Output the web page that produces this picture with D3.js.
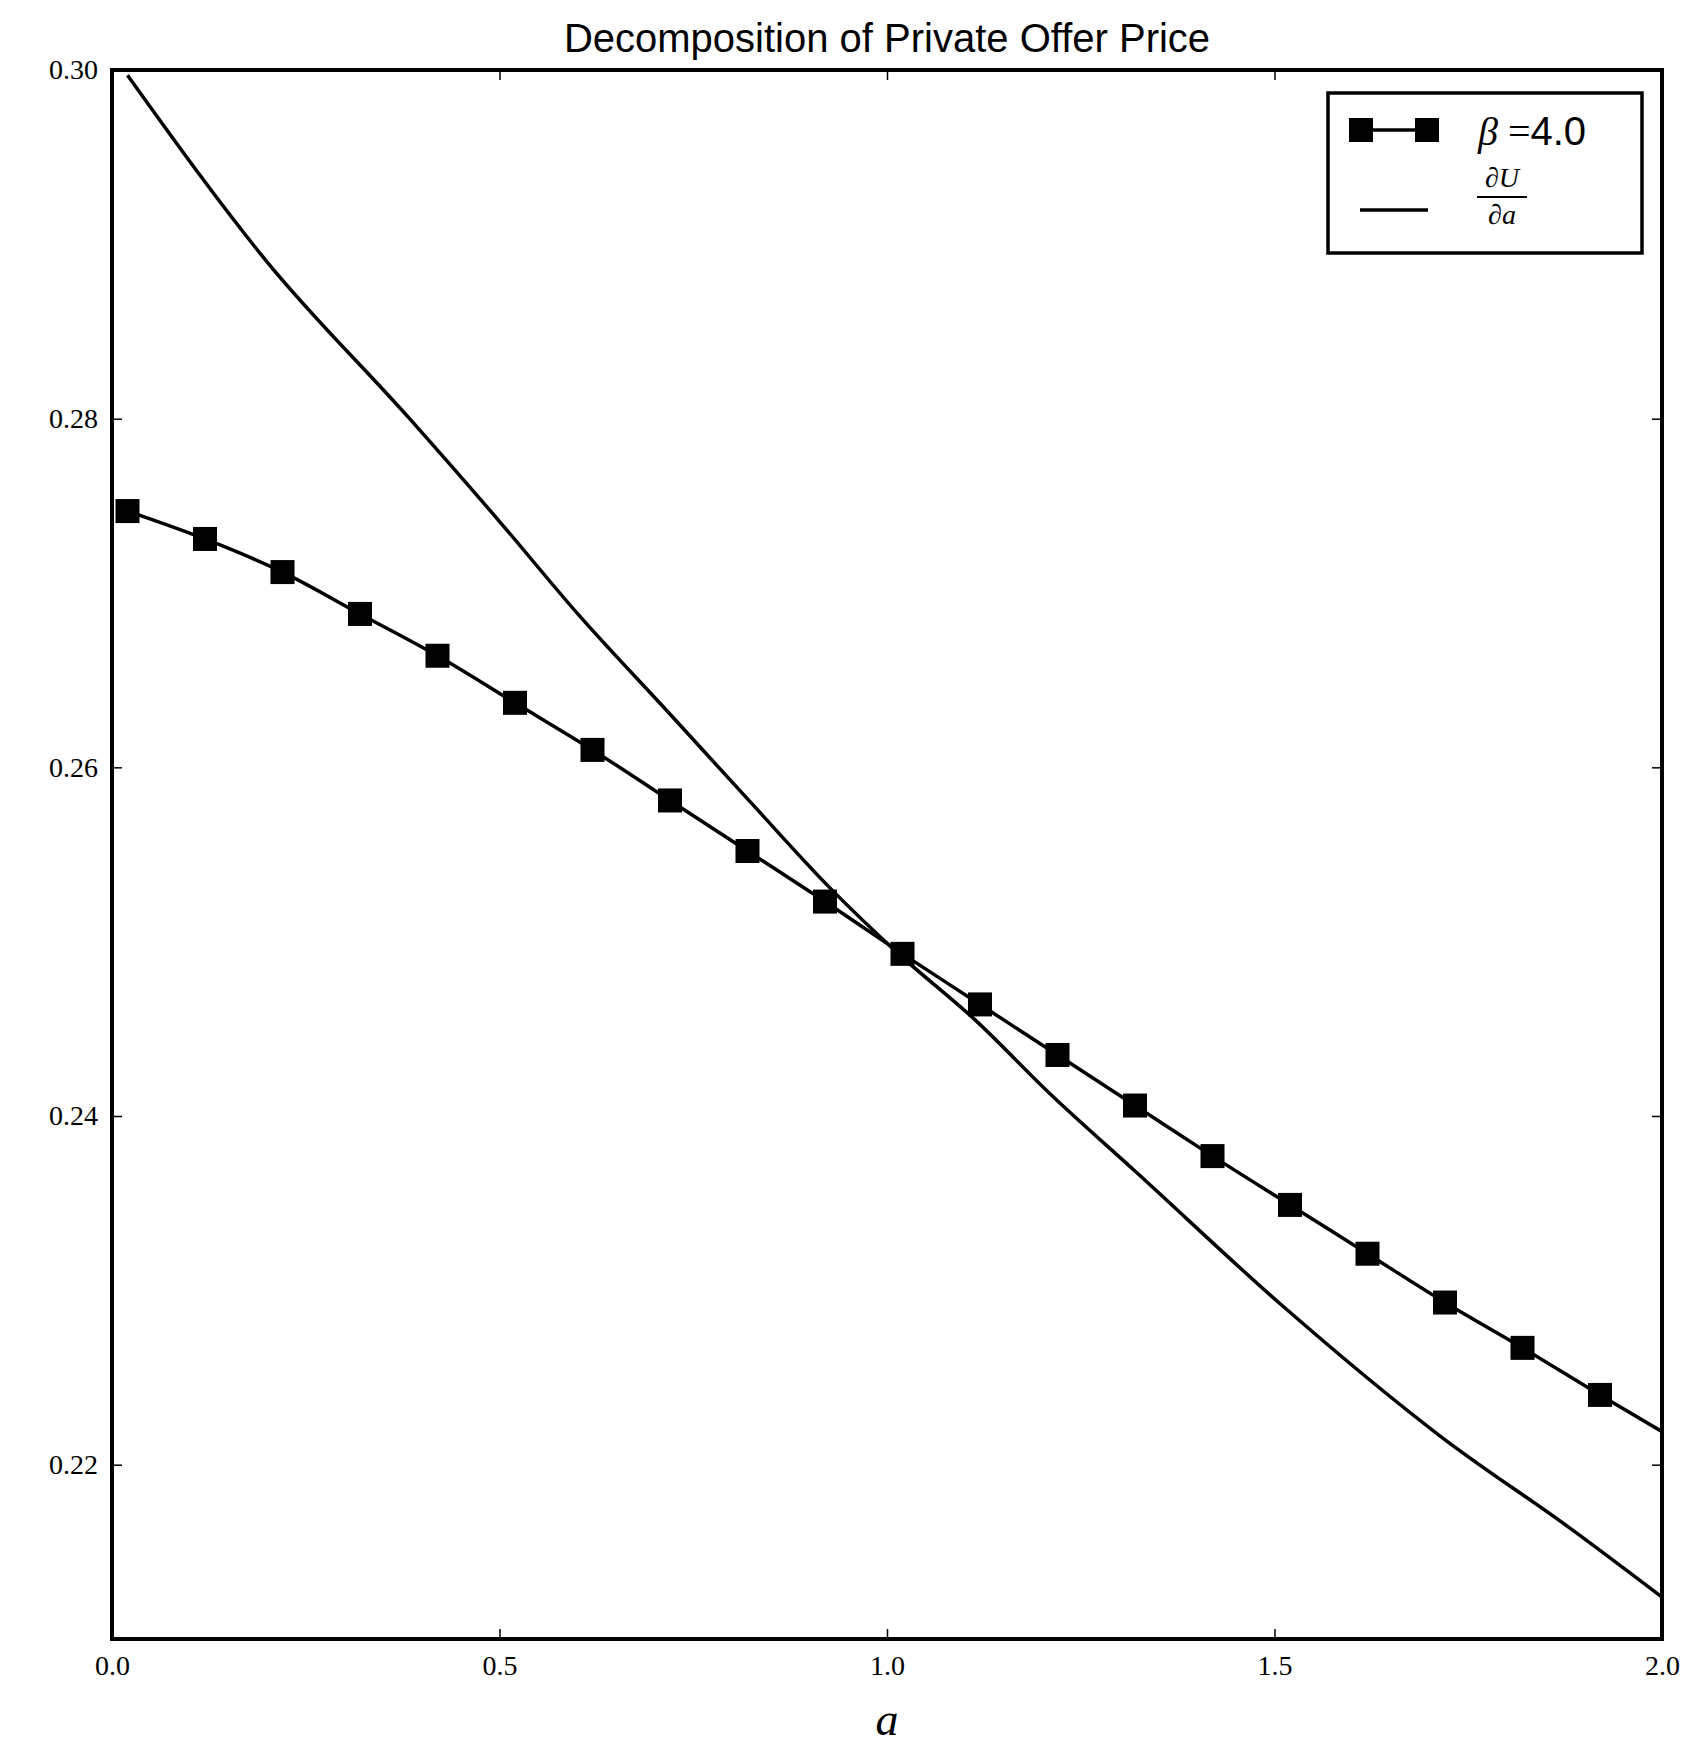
<!DOCTYPE html>
<html><head><meta charset="utf-8">
<script src="https://cdn.jsdelivr.net/npm/d3@7"></script>
<style>body{margin:0;background:#fff}</style></head>
<body><svg id="chart" width="1704" height="1759"></svg>
<script>
const markerA = [0.02,0.12,0.22,0.32,0.42,0.52,0.62,0.72,0.82,0.92,1.02,1.12,1.22,1.32,1.42,1.52,1.62,1.72,1.82,1.92,2.0];
const markerP = [0.2747,0.2731,0.2712,0.2688,0.2664,0.2637,0.2610,0.2581,0.2552,0.2523,0.2493,0.2464,0.2435,0.2406,0.2377,0.2349,0.2321,0.2293,0.2267,0.2240,0.2219];
const dudaA = [0.02,0.2,0.384,0.502,0.601,0.719,0.828,0.926,1.015,1.114,1.212,1.321,1.508,1.715,1.883,2.0];
const dudaP = [0.2997,0.2890,0.2800,0.2740,0.2688,0.2631,0.2578,0.2531,0.2493,0.2455,0.2412,0.2368,0.2292,0.2216,0.2163,0.2124];
const xTicks = [0,0.5,1,1.5,2];
const yTicks = [0.22,0.24,0.26,0.28,0.30];

const m = {left:112, top:70, right:1662, bottom:1639};
const svg = d3.select('#chart');
const x = d3.scaleLinear().domain([0,2]).range([m.left,m.right]);
const y = d3.scaleLinear().domain([0.21,0.30]).range([m.bottom,m.top]);

const tickFont = 'Liberation Serif, DejaVu Serif, serif';
function ax(g, axis){ g.call(axis); g.select('.domain').remove(); g.selectAll('line').attr('stroke','#000').attr('stroke-width',1.5); g.selectAll('text').attr('font-family',tickFont).attr('font-size',28).attr('fill','#000'); }
svg.append('g').attr('transform',`translate(0,${m.bottom})`).call(g=>ax(g,d3.axisBottom(x).tickValues(xTicks).tickSize(-10).tickPadding(16).tickFormat(d3.format('.1f'))));
svg.append('g').attr('transform',`translate(0,${m.top})`).call(g=>ax(g,d3.axisTop(x).tickValues(xTicks).tickSize(-10).tickFormat('')));
svg.append('g').attr('transform',`translate(${m.left},0)`).call(g=>ax(g,d3.axisLeft(y).tickValues(yTicks).tickSize(-10).tickPadding(14).tickFormat(d3.format('.2f'))));
svg.append('g').attr('transform',`translate(${m.right},0)`).call(g=>ax(g,d3.axisRight(y).tickValues(yTicks).tickSize(-10).tickFormat('')));

svg.append('defs').append('clipPath').attr('id','clip').append('rect')
  .attr('x',m.left).attr('y',m.top).attr('width',m.right-m.left).attr('height',m.bottom-m.top);
const plot = svg.append('g').attr('clip-path','url(#clip)');
const line = d3.line().x(d=>x(d[0])).y(d=>y(d[1])).curve(d3.curveMonotoneX);
plot.append('path').datum(d3.zip(dudaA,dudaP)).attr('d',line).attr('fill','none').attr('stroke','#000').attr('stroke-width',3.5);
const mk = d3.zip(markerA,markerP);
plot.append('path').datum(mk).attr('d',line).attr('fill','none').attr('stroke','#000').attr('stroke-width',3.5);
plot.selectAll('rect.m').data(mk.slice(0,20)).join('rect').attr('class','m')
  .attr('x',d=>x(d[0])-12).attr('y',d=>y(d[1])-12).attr('width',24).attr('height',24).attr('fill','#000');

svg.append('rect').attr('x',m.left).attr('y',m.top).attr('width',m.right-m.left).attr('height',m.bottom-m.top)
  .attr('fill','none').attr('stroke','#000').attr('stroke-width',4);

svg.append('text').attr('x',(m.left+m.right)/2).attr('y',52).attr('text-anchor','middle')
  .attr('font-family','Liberation Sans, Arial, sans-serif').attr('font-size',40).text('Decomposition of Private Offer Price');
svg.append('text').attr('x',(m.left+m.right)/2).attr('y',1735).attr('text-anchor','middle')
  .attr('font-family',tickFont).attr('font-style','italic').attr('font-size',46).text('a');

// legend
const lg = svg.append('g');
lg.append('rect').attr('x',1328).attr('y',93).attr('width',314).attr('height',160).attr('fill','#fff').attr('stroke','#000').attr('stroke-width',3.5);
lg.append('line').attr('x1',1361).attr('x2',1427).attr('y1',130).attr('y2',130).attr('stroke','#000').attr('stroke-width',3.5);
[1361,1427].forEach(cx=>lg.append('rect').attr('x',cx-12).attr('y',118).attr('width',24).attr('height',24).attr('fill','#000'));
lg.append('line').attr('x1',1360).attr('x2',1428).attr('y1',210).attr('y2',210).attr('stroke','#000').attr('stroke-width',3.5);
const t1 = lg.append('text').attr('x',1478).attr('y',145).attr('font-size',40);
t1.append('tspan').attr('font-family',tickFont).attr('font-style','italic').text('β ');
t1.append('tspan').attr('font-family',tickFont).text('=');
t1.append('tspan').attr('font-family','Liberation Sans, Arial, sans-serif').text('4.0');
lg.append('text').attr('x',1502).attr('y',187).attr('text-anchor','middle').attr('font-family',tickFont).attr('font-style','italic').attr('font-size',28).text('∂U');
lg.append('line').attr('x1',1477).attr('x2',1527).attr('y1',197).attr('y2',197).attr('stroke','#000').attr('stroke-width',2);
lg.append('text').attr('x',1502).attr('y',224).attr('text-anchor','middle').attr('font-family',tickFont).attr('font-style','italic').attr('font-size',28).text('∂a');
</script></body></html>
